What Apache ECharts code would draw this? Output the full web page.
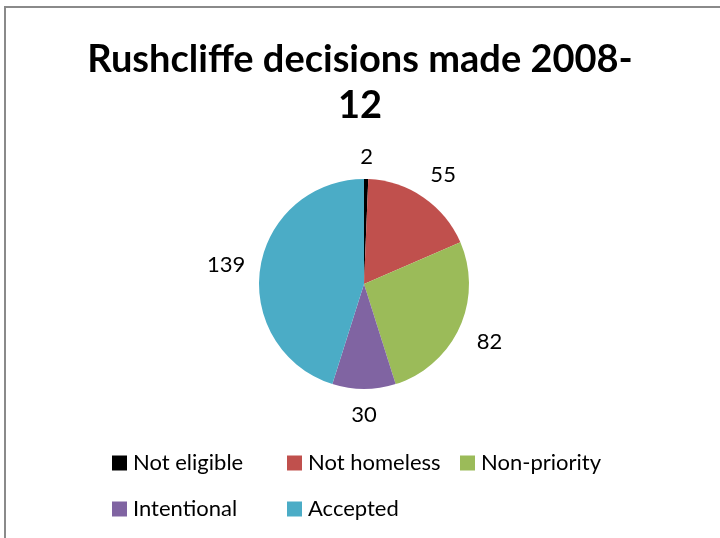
<!DOCTYPE html>
<html>
<head>
<meta charset="utf-8">
<script src="https://cdn.jsdelivr.net/npm/echarts@6/dist/echarts.min.js"></script>
<style>
  html, body { margin: 0; padding: 0; background: #fff; }
  #chart { width: 720px; height: 538px; }
</style>
</head>
<body>
<div id="chart"></div>
<script>
// Homelessness decisions, Rushcliffe 2008-12
var categories = ['Not eligible', 'Not homeless', 'Non-priority', 'Intentional', 'Accepted'];
var decisions = [2, 55, 82, 30, 139];
var colors = ['#000000', '#C0504D', '#9BBB59', '#8064A2', '#4BACC6'];

var FONT = 'Lato, "Open Sans", sans-serif';
var PIE_CENTER = [364, 284];
var PIE_RADIUS = 105;
var LABEL_GAP = 14;
var LABEL_HALF_HEIGHT = 10;

// legend slots laid out as a two-row grid
var legendSlots = [
  { left: 112, top: 452 },
  { left: 287, top: 452 },
  { left: 460, top: 452 },
  { left: 112, top: 498 },
  { left: 287, top: 498 }
];

// mid angle of each slice, clockwise from 12 o'clock
var total = decisions.reduce(function (a, b) { return a + b; }, 0);
var midAngles = [];
(function () {
  var acc = 0;
  decisions.forEach(function (v) {
    midAngles.push((acc + v / 2) / total * Math.PI * 2);
    acc += v;
  });
})();

var chart = echarts.init(document.getElementById('chart'), null, { renderer: 'canvas' });

var legends = categories.map(function (name, i) {
  return {
    left: legendSlots[i].left,
    top: legendSlots[i].top,
    data: [name],
    icon: 'rect',
    itemWidth: 15,
    itemHeight: 15,
    itemGap: 0,
    padding: 0,
    textStyle: { fontFamily: FONT, fontSize: 22, color: '#000', padding: [0, 0, 0, 1] },
    selectedMode: false
  };
});

chart.setOption({
  animation: false,
  backgroundColor: '#fff',
  color: colors,
  title: {
    text: 'Rushcliffe decisions made 2008-\n12',
    left: 'center',
    top: 32,
    textStyle: {
      fontFamily: FONT,
      fontWeight: 'bold',
      fontSize: 38,
      lineHeight: 46,
      color: '#000'
    }
  },
  graphic: [{
    type: 'rect',
    shape: { x: 5, y: 7, width: 800, height: 600 },
    style: { fill: 'none', stroke: '#8a8a8a', lineWidth: 2 },
    silent: true
  }],
  legend: legends,
  series: [{
    type: 'pie',
    center: PIE_CENTER,
    radius: PIE_RADIUS,
    startAngle: 90,
    clockwise: true,
    data: categories.map(function (c, i) { return { name: c, value: decisions[i] }; }),
    itemStyle: { borderWidth: 0 },
    label: {
      show: true,
      position: 'outside',
      formatter: '{c}',
      fontFamily: FONT,
      fontSize: 22,
      color: '#000'
    },
    labelLine: { show: false },
    // value labels sit just outside the rim, centred on each slice's mid angle
    labelLayout: function (params) {
      var a = midAngles[params.dataIndex];
      var s = Math.sin(a), c = Math.cos(a);
      var w = params.labelRect.width;
      var d = PIE_RADIUS + LABEL_GAP + Math.abs(s) * w / 2 + Math.abs(c) * LABEL_HALF_HEIGHT;
      return {
        x: PIE_CENTER[0] + d * s + (s > 0.3 ? 3 : 0),
        y: PIE_CENTER[1] - d * c + 2,
        align: 'center',
        verticalAlign: 'middle'
      };
    },
    emphasis: { disabled: true }
  }]
});
</script>
</body>
</html>
